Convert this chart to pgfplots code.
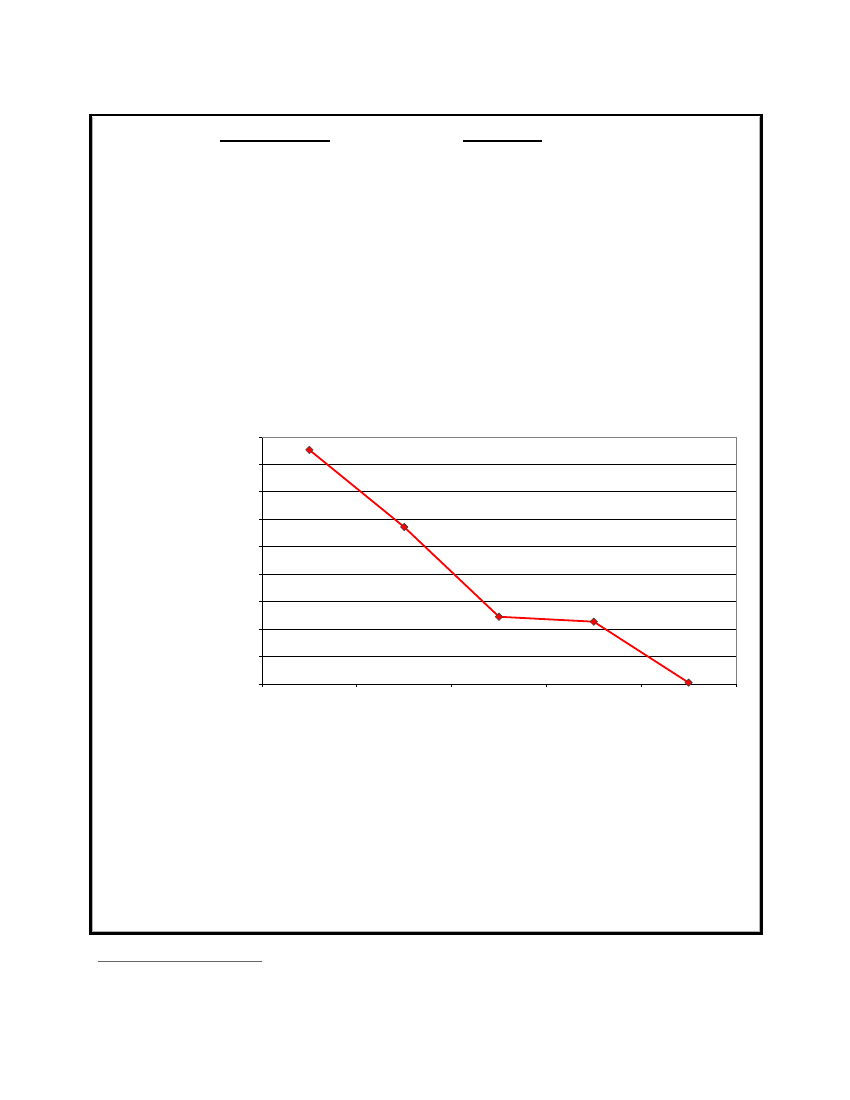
\documentclass[border=0pt]{standalone}
\usepackage{pgfplots}
\pgfplotsset{compat=1.18}

\begin{document}
\begin{tikzpicture}[x=1pt,y=1pt]
% page
\fill[white] (0,0) rectangle (850,1100);
% frame
\draw[line width=2.6pt,black] (90.5,985) rectangle (761.5,166.5);
\draw[line width=0.8pt,gray!60] (92.5,983) -- (92.5,168.5) -- (759.5,168.5) -- (759.5,983);
% blank underlines
\draw[line width=1.2pt] (220,959) -- (330,959);
\draw[line width=1.2pt] (463,959) -- (542,959);
% footnote rule
\draw[line width=0.9pt,gray!80!black] (98,139) -- (262,139);
\coordinate (plotorigin) at (262,416);

\begin{axis}[
    at={(plotorigin)}, anchor=south west,
    scale only axis,
    width=474pt, height=247pt,
    xmin=0, xmax=5,
    ymin=0, ymax=9,
    xtick={0,...,5},
    ytick={0,...,9},
    xticklabels={}, yticklabels={},
    axis x line*=bottom,
    axis y line*=left,
    axis line style={black, line width=0.9pt},
    tick style={black, line width=0.8pt},
    tick align=outside,
    major tick length=3pt,
    ymajorgrids=true,
    grid style={black, line width=0.9pt},
    clip=false,
    after end axis/.code={
        \draw[gray, line width=0.9pt] (rel axis cs:0,1) -- (rel axis cs:1,1) -- (rel axis cs:1,0);
    },
]
\addplot[
    color=red,
    line width=1.8pt,
    mark=square*,
    mark size=2.6pt,
    mark options={rotate=45, fill=red, draw=black!75, line width=0.6pt},
    ] coordinates {
    (0.5,8.53) (1.5,5.72) (2.5,2.45) (3.5,2.27) (4.5,0.05)
    };
\end{axis}
\end{tikzpicture}
\end{document}
